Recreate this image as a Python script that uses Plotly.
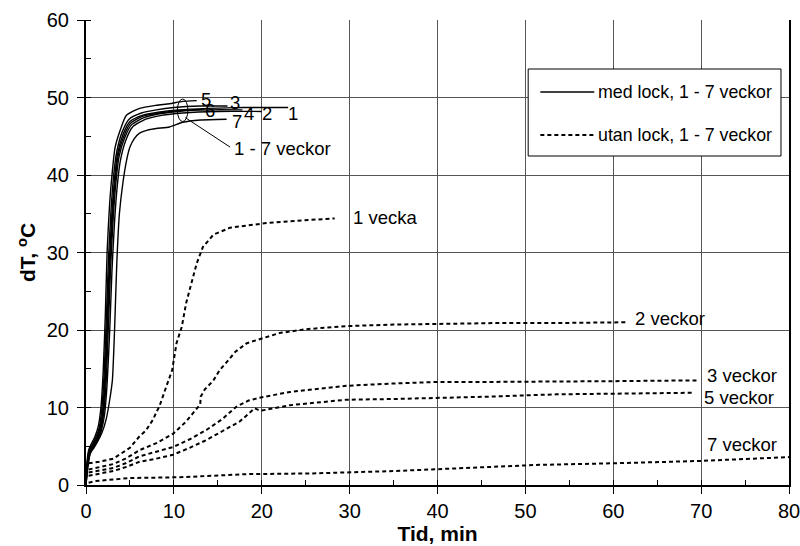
import plotly.graph_objects as go

# ---- "med lock" (with lid), 1-7 weeks: solid curves ----
c5_x = [0, 0.1, 0.3, 0.6, 1.0, 1.4, 1.7, 1.95, 2.2, 2.4, 2.7, 3.0, 3.3, 3.9, 4.6, 6.1, 8.0, 9.5, 11.0, 12.6]
c5_y = [0, 2.8, 4.5, 5.3, 6.2, 7.6, 10.0, 14.5, 22, 30, 36.5, 40.5, 43.5, 45.8, 47.7, 48.6, 49.0, 49.2, 49.5, 49.6]
c3_x = [0, 0.12, 0.35, 0.7, 1.1, 1.5, 1.8, 2.05, 2.3, 2.55, 2.85, 3.15, 3.5, 4.1, 4.9, 6.3, 8.0, 10.0, 13.0, 16.1]
c3_y = [0, 2.6, 4.4, 5.2, 6.1, 7.4, 9.8, 14, 21, 29, 35.5, 40, 43, 45.5, 47.2, 48.0, 48.4, 48.7, 48.9, 48.9]
c1_x = [0, 0.13, 0.38, 0.75, 1.15, 1.55, 1.9, 2.15, 2.4, 2.65, 2.95, 3.25, 3.6, 4.2, 5.0, 6.4, 8.2, 10.5, 14.0, 18.0, 23.0]
c1_y = [0, 2.5, 4.3, 5.1, 5.9, 7.2, 9.6, 14, 21, 28.5, 35, 39.5, 42.8, 45.2, 46.9, 47.7, 48.1, 48.4, 48.6, 48.7, 48.7]
c6_x = [0, 0.14, 0.4, 0.8, 1.2, 1.6, 1.95, 2.2, 2.45, 2.7, 3.0, 3.3, 3.65, 4.3, 5.1, 6.5, 8.3, 10.5, 13.5]
c6_y = [0, 2.4, 4.2, 5.0, 5.8, 7.1, 9.4, 13.5, 20.5, 28, 34.5, 39, 42.5, 45, 46.7, 47.6, 48.0, 48.3, 48.5]
c4_x = [0, 0.15, 0.42, 0.85, 1.25, 1.65, 2.0, 2.3, 2.55, 2.8, 3.1, 3.4, 3.75, 4.4, 5.2, 6.6, 8.4, 10.5, 14.0, 17.8]
c4_y = [0, 2.3, 4.1, 4.9, 5.7, 7.0, 9.2, 13.5, 20.5, 28, 34.5, 39, 42.3, 44.8, 46.5, 47.4, 47.9, 48.2, 48.4, 48.4]
c2_x = [0, 0.17, 0.44, 0.9, 1.3, 1.7, 2.1, 2.4, 2.7, 2.95, 3.25, 3.55, 3.9, 4.5, 5.3, 6.8, 8.6, 11.0, 15.0, 20.0]
c2_y = [0, 2.2, 4.0, 4.8, 5.6, 6.8, 9.0, 13.0, 20.0, 27.5, 34, 38.5, 41.8, 44.4, 46.2, 47.2, 47.7, 48.0, 48.2, 48.2]
c7_x = [0, 0.2, 0.45, 0.8, 1.3, 1.8, 2.3, 2.7, 3.0, 3.25, 3.5, 3.8, 4.2, 4.6, 5.0, 5.5, 6.1, 7.0, 8.0, 9.5, 11.0, 13.0, 16.0]
c7_y = [0, 2.2, 3.9, 4.9, 5.6, 6.7, 8.5, 11, 13.5, 20, 28.5, 35, 39, 41.8, 43.6, 44.7, 45.4, 45.8, 46.0, 46.2, 46.8, 47.1, 47.2]

# ---- "utan lock" (without lid): dashed curves ----
u1_x = [0.3, 1.5, 3.1, 5.0, 6.1, 6.8, 7.6, 8.4, 9.2, 9.8, 10.3, 10.9, 11.4, 11.9, 12.6, 13.3, 14.5, 16.4, 18.3, 20.5, 24.0, 28.3]
u1_y = [2.8, 3.0, 3.4, 4.8, 6.3, 7.0, 8.4, 10.3, 12.9, 14.8, 18.3, 20.4, 23.5, 25.6, 28.6, 30.7, 32.3, 33.2, 33.5, 33.8, 34.1, 34.4]
u2_x = [0.3, 1.5, 3.1, 4.5, 6.1, 8.0, 9.9, 11.4, 12.6, 13.0, 13.05, 13.5, 14.5, 15.2, 16.2, 17.0, 18.3, 20.5, 22.0, 25.0, 29.6, 35.0, 40.0, 47.0, 53.5, 61.6]
u2_y = [2.0, 2.3, 2.7, 3.4, 4.5, 5.4, 6.6, 8.2, 9.9, 10.4, 11.4, 12.3, 13.5, 14.8, 16.1, 17.2, 18.3, 19.1, 19.6, 20.1, 20.5, 20.7, 20.8, 20.9, 20.9, 21.0]
u3_x = [0.3, 1.5, 3.1, 4.5, 6.1, 8.0, 9.9, 11.8, 13.7, 15.5, 17.1, 18.5, 19.9, 23.2, 26.6, 29.6, 35.0, 39.9, 46.0, 53.5, 60.0, 69.5]
u3_y = [1.6, 1.9, 2.2, 2.8, 3.7, 4.3, 4.9, 5.9, 7.1, 8.5, 10.1, 10.9, 11.3, 12.0, 12.4, 12.8, 13.1, 13.3, 13.3, 13.4, 13.4, 13.5]
u5_x = [0.3, 1.5, 3.1, 4.5, 6.1, 8.0, 9.9, 11.8, 13.7, 15.6, 17.5, 18.5, 19.2, 19.6, 20.0, 23.2, 26.6, 29.6, 35.0, 39.9, 46.0, 53.5, 60.0, 69.0]
u5_y = [1.2, 1.5, 1.8, 2.3, 3.0, 3.4, 3.9, 4.8, 5.8, 7.0, 8.2, 9.2, 9.9, 9.7, 9.6, 10.3, 10.7, 11.0, 11.1, 11.2, 11.4, 11.7, 11.8, 11.9]
u7_x = [0.3, 1.0, 5.0, 10.7, 18.3, 25.8, 35.0, 43.0, 51.6, 60.0, 69.8, 80.0]
u7_y = [0.3, 0.5, 0.9, 1.0, 1.4, 1.5, 1.8, 2.2, 2.6, 2.8, 3.1, 3.6]

x_ticks = [0, 10, 20, 30, 40, 50, 60, 70, 80]
y_ticks = [0, 10, 20, 30, 40, 50, 60]

solid = [(c5_x, c5_y, "5"), (c3_x, c3_y, "3"), (c1_x, c1_y, "1"), (c6_x, c6_y, "6"),
         (c4_x, c4_y, "4"), (c2_x, c2_y, "2"), (c7_x, c7_y, "7")]
dashed = [(u1_x, u1_y, "1 vecka"), (u2_x, u2_y, "2 veckor"), (u3_x, u3_y, "3 veckor"),
          (u5_x, u5_y, "5 veckor"), (u7_x, u7_y, "7 veckor")]

DASH = "4px,3px"

fig = go.Figure()
for xs, ys, nm in solid:
    fig.add_trace(go.Scatter(x=xs, y=ys, mode="lines", name="med lock " + nm,
                             line=dict(color="black", width=1.4, shape="spline", smoothing=0.6),
                             showlegend=False))
for xs, ys, nm in dashed:
    fig.add_trace(go.Scatter(x=xs, y=ys, mode="lines", name="utan lock " + nm,
                             line=dict(color="black", width=2, dash=DASH), showlegend=False))

FONT = "Liberation Sans, Arial, sans-serif"
ann_font = dict(family=FONT, size=18.5, color="black")

# curve labels (with lid)
lid_labels = [("5", 13.6, 49.7), ("3", 16.9, 49.3), ("6", 14.1, 48.3), ("4", 18.5, 48.0),
              ("2", 20.6, 48.0), ("1", 23.6, 48.0), ("7", 17.2, 46.9)]
for t, x, y in lid_labels:
    fig.add_annotation(x=x, y=y, text=t, showarrow=False, font=ann_font, xanchor="center", yanchor="middle")
fig.add_annotation(x=16.6, y=43.4, text="1 - 7 veckor", showarrow=False, font=ann_font,
                   xanchor="left", yanchor="middle")
# without-lid labels
for t, x, y in [("1 vecka", 30.2, 34.5), ("2 veckor", 62.3, 21.5), ("3 veckor", 70.4, 14.1),
                ("5 veckor", 70.1, 11.3), ("7 veckor", 70.4, 5.25)]:
    fig.add_annotation(x=x, y=y, text=t, showarrow=False, font=ann_font, xanchor="left", yanchor="middle")

# ellipse marker and leader line
fig.add_shape(type="circle", xref="x", yref="y", x0=10.4, x1=11.6, y0=46.9, y1=49.8,
              line=dict(color="black", width=1))
fig.add_shape(type="line", xref="x", yref="y", x0=11.3, y0=47.4, x1=16.4, y1=43.6,
              line=dict(color="black", width=1))

# manual legend
fig.add_shape(type="rect", xref="paper", yref="paper", x0=0.629, x1=0.9886, y0=0.7075, y1=0.8946,
              line=dict(color="black", width=1), fillcolor="white", layer="above")
fig.add_shape(type="line", xref="paper", yref="paper", x0=0.6463, x1=0.7230, y0=0.845, y1=0.845,
              line=dict(color="black", width=1.5))
fig.add_shape(type="line", xref="paper", yref="paper", x0=0.6463, x1=0.7230, y0=0.7527, y1=0.7527,
              line=dict(color="black", width=2, dash=DASH))
leg_font = dict(family=FONT, size=17.8, color="black")
fig.add_annotation(xref="paper", yref="paper", x=0.7259, y=0.845, text="med lock, 1 - 7 veckor",
                   showarrow=False, font=leg_font, xanchor="left", yanchor="middle")
fig.add_annotation(xref="paper", yref="paper", x=0.7259, y=0.7527, text="utan lock, 1 - 7 veckor",
                   showarrow=False, font=leg_font, xanchor="left", yanchor="middle")

axis_common = dict(
    showgrid=True, gridcolor="#555555", gridwidth=1, zeroline=False,
    showline=True, linecolor="black", linewidth=2,
    ticks="outside", ticklen=7, tickwidth=1, tickcolor="black",
    tickfont=dict(family=FONT, size=20, color="black"),
    minor=dict(dtick=5, ticks="inside", ticklen=5, tickwidth=1, tickcolor="black", showgrid=False),
    automargin=False, ticklabeloverflow="allow",
)
fig.update_xaxes(range=[0, 80], tickvals=x_ticks, ticktext=[str(v) for v in x_ticks],
                 title=dict(text="<b>Tid, min</b>", font=dict(family=FONT, size=21, color="black"), standoff=1),
                 **axis_common)
fig.update_yaxes(range=[0, 60], tickvals=y_ticks, ticktext=[str(v) for v in y_ticks],
                 title=dict(text="<b>dT, <sup>o</sup>C</b>", font=dict(family=FONT, size=21, color="black"), standoff=5),
                 ticklabelstandoff=4, mirror=True, **axis_common)

fig.update_layout(
    width=800, height=546,
    margin=dict(l=86, r=11, t=20, b=61),
    plot_bgcolor="white", paper_bgcolor="white",
    showlegend=False,
)
fig.write_html("out.html")
